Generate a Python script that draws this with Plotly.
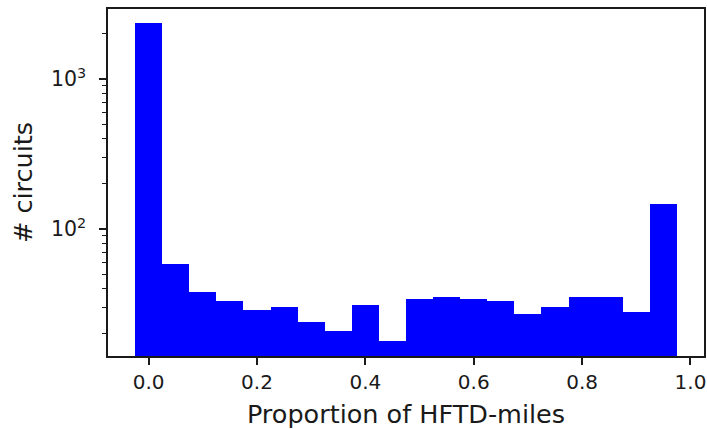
import plotly.graph_objects as go

# Histogram bins (centres) and counts
bin_centers = [0.00, 0.05, 0.10, 0.15, 0.20, 0.25, 0.30, 0.35, 0.40, 0.45,
               0.50, 0.55, 0.60, 0.65, 0.70, 0.75, 0.80, 0.85, 0.90, 0.95]
counts = [2362, 58, 38, 33, 29, 30, 24, 21, 31, 18,
          34, 35, 34, 33, 27, 30, 35, 35, 28, 146]
bin_width = 0.05

x_tickvals = [0.0, 0.2, 0.4, 0.6, 0.8, 1.0]
x_ticktext = ["0.0", "0.2", "0.4", "0.6", "0.8", "1.0"]
y_tickvals = [100, 1000]
y_ticktext = ["10<sup>2</sup>", "10<sup>3</sup>"]
y_minorvals = [20, 30, 40, 50, 60, 70, 80, 90,
               200, 300, 400, 500, 600, 700, 800, 900, 2000]

FONT = "DejaVu Sans"

fig = go.Figure()
fig.add_trace(go.Bar(
    x=bin_centers, y=counts, width=bin_width,
    marker=dict(color="#0000ff", line=dict(width=0)),
))

fig.update_layout(
    width=707, height=429,
    margin=dict(l=108, r=3, t=9, b=73),
    paper_bgcolor="white", plot_bgcolor="white",
    showlegend=False, bargap=0,
    font=dict(family=FONT, color="#1a1a1a"),
)

fig.update_xaxes(
    range=[-0.075, 1.025],
    tickmode="array", tickvals=x_tickvals, ticktext=x_ticktext,
    ticks="outside", ticklen=7, tickwidth=1.5, tickcolor="#1a1a1a",
    tickfont=dict(size=20, family=FONT),
    showline=True, mirror=True, linecolor="#1a1a1a", linewidth=1.5,
    showgrid=False, zeroline=False,
    title=dict(text="Proportion of HFTD-miles", font=dict(size=25.5, family=FONT), standoff=13),
    automargin=False,
)
fig.update_yaxes(
    type="log", range=[1.153, 3.467],
    tickmode="array", tickvals=y_tickvals, ticktext=y_ticktext,
    ticks="outside", ticklen=7, tickwidth=1.5, tickcolor="#1a1a1a",
    tickfont=dict(size=20.5, family=FONT), ticklabelstandoff=9,
    minor=dict(tickmode="array", tickvals=y_minorvals, ticks="outside",
               ticklen=4, tickwidth=1.2, tickcolor="#1a1a1a", showgrid=False),
    showline=True, mirror=True, linecolor="#1a1a1a", linewidth=1.5,
    showgrid=False, zeroline=False,
    title=dict(text="# circuits", font=dict(size=25.5, family=FONT), standoff=11),
    automargin=False,
)

fig.write_html("out.html", config={"displayModeBar": False},
               post_script="document.body.style.margin='0';")
